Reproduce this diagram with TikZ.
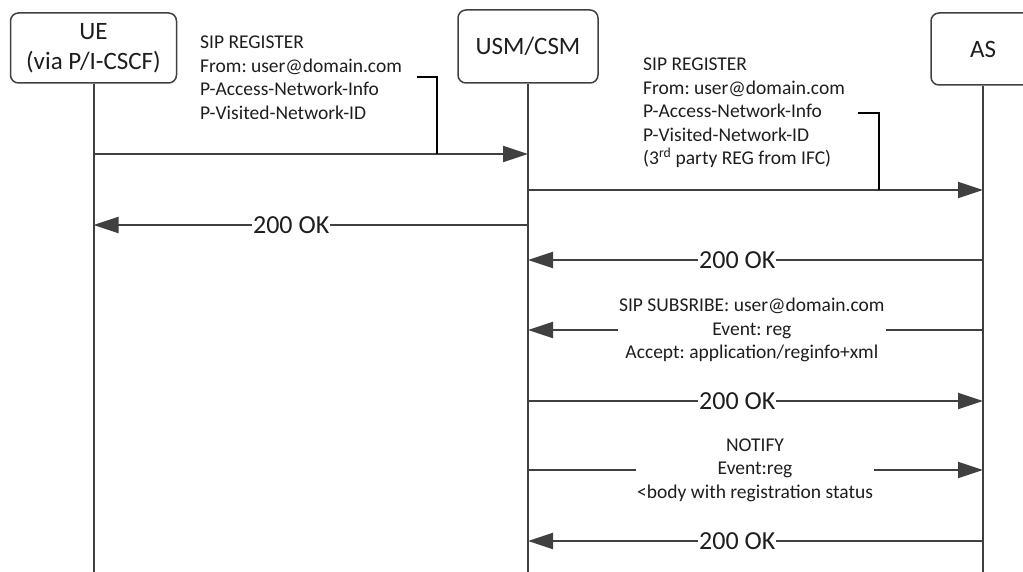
\documentclass[tikz,border=0pt]{standalone}
\usepackage{fontspec}
\setmainfont{Carlito}
\usetikzlibrary{arrows.meta}
\definecolor{ln}{HTML}{404040}
\definecolor{tx}{HTML}{1E1E1E}
\frenchspacing
\begin{document}
\begin{tikzpicture}[x=1pt,y=-1pt,
  box/.style={draw=ln, line width=1.5pt, rounded corners=8pt, text=tx,
    font=\fontsize{25}{29.5}\selectfont, align=center, inner sep=0pt},
  life/.style={draw=ln, line width=2pt},
  msg/.style={draw=ln, line width=2pt, -{Triangle[length=25pt,width=16pt]}},
  ok/.style={fill=white, text=tx, font=\fontsize{26}{31}\selectfont, inner xsep=1pt, inner ysep=0pt},
  note/.style={text=tx, font=\fontsize{19.5}{23.5}\selectfont, align=left, inner sep=0pt, anchor=north west},
  cnote/.style={fill=white, text=tx, font=\fontsize{19.5}{23.5}\selectfont, align=center, inner xsep=1pt, inner ysep=2pt},
  brk/.style={draw=black, line width=2pt},
]
\useasboundingbox (0,0) rectangle (1023,572);
\clip (0,0) rectangle (1023,572);
% participants
\node[box, minimum width=166pt, minimum height=70pt] (ue) at (93.5,48) {UE\\(via P/I-CSCF)};
\node[box, minimum width=140pt, minimum height=73pt] (usm) at (528,46.5) {USM/CSM};
\node[box, minimum width=104pt, minimum height=72pt] (as) at (983,49) {AS};
% lifelines
\coordinate (bot) at (0,585);
\draw[life] (ue.south) -- (ue.south |- bot);
\draw[life] (usm.south) -- (usm.south |- bot);
\draw[life] (as.south) -- (as.south |- bot);
% message rows
\coordinate (y1) at (0,154);
\coordinate (y2) at (0,190);
\coordinate (y3) at (0,225);
\coordinate (y4) at (0,260);
\coordinate (y5) at (0,330);
\coordinate (y6) at (0,401);
\coordinate (y7) at (0,470);
\coordinate (y8) at (0,541);
% 1 SIP REGISTER UE -> USM
\draw[msg] (ue |- y1) -- (usm |- y1);
\node[note] (n1) at (200,36) {SIP REGISTER\\From: user@domain.com\\P-Access-Network-Info\\P-Visited-Network-ID};
\coordinate (b1s) at (417,77);
\coordinate (b1e) at (437,154);
\draw[brk] (b1s) -| (b1e);
% 2 SIP REGISTER USM -> AS
\draw[msg] (usm |- y2) -- (as |- y2);
\node[note] (n2) at (643,58) {SIP REGISTER\\From: user@domain.com\\P-Access-Network-Info\\P-Visited-Network-ID\\(3\textsuperscript{rd} party REG from IFC)};
\coordinate (b2s) at (858,113);
\coordinate (b2e) at (879,190);
\draw[brk] (b2s) -| (b2e);
% 3 200 OK USM -> UE
\draw[msg] (usm |- y3) -- node[ok, pos=0.545] (ok1) {200 OK} (ue |- y3);
% 4 200 OK AS -> USM
\draw[msg] (as |- y4) -- node[ok, pos=0.54] (ok2) {200 OK} (usm |- y4);
% 5 SUBSCRIBE AS -> USM
\draw[msg] (as |- y5) -- node[cnote, pos=0.508] (sub) {SIP SUBSRIBE: user@domain.com\\Event: reg\\Accept: application/reginfo+xml} (usm |- y5);
% 6 200 OK USM -> AS
\draw[msg] (usm |- y6) -- node[ok, pos=0.46] (ok3) {200 OK} (as |- y6);
% 7 NOTIFY USM -> AS
\draw[msg] (usm |- y7) -- node[cnote, pos=0.499] (ntf) {NOTIFY\\Event:reg\\<body with registration status} (as |- y7);
% 8 200 OK AS -> USM
\draw[msg] (as |- y8) -- node[ok, pos=0.54] (ok4) {200 OK} (usm |- y8);
\end{tikzpicture}
\end{document}
